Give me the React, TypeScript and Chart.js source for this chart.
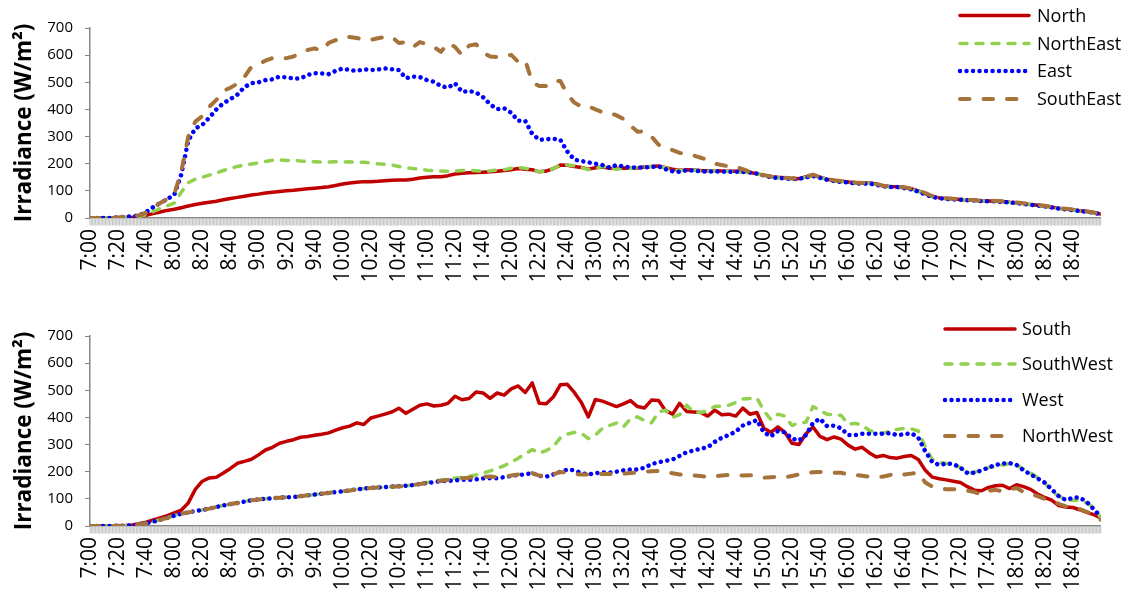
import React, { useEffect, useRef } from 'react';
import { Chart, registerables } from 'chart.js';

Chart.register(...registerables);

const FONT = '"Open Sans", "Liberation Sans", sans-serif';

// Tick labels every 20 minutes (minute 0 = 7:00)
const tickLabels = [
  '7:00', '7:20', '7:40', '8:00', '8:20', '8:40', '9:00', '9:20', '9:40',
  '10:00', '10:20', '10:40', '11:00', '11:20', '11:40', '12:00', '12:20', '12:40',
  '13:00', '13:20', '13:40', '14:00', '14:20', '14:40', '15:00', '15:20', '15:40',
  '16:00', '16:20', '16:40', '17:00', '17:20', '17:40', '18:00', '18:20', '18:40',
];

// Sample times: every 5 minutes from 7:00 (0) to 19:00 (720)
const sampleMinutes: number[] = [];
for (let m = 0; m <= 720; m += 5) sampleMinutes.push(m);

// ---- Top panel (W/m²) ----
const north = [
  0, 0, 0, 0, 1, 2, 3, 5, 10, 16, 22, 28,
  32, 38, 44, 50, 54, 58, 62, 67, 72, 76, 80, 85,
  88, 92, 95, 98, 100, 102, 105, 108, 110, 112, 115, 120,
  125, 129, 132, 134, 134, 135, 137, 139, 140, 140, 143, 147,
  150, 152, 152, 156, 162, 165, 167, 168, 169, 170, 172, 175,
  178, 182, 180, 178, 170, 173, 182, 195, 194, 190, 186, 180,
  185, 188, 183, 182, 184, 183, 184, 188, 190, 192, 185, 180,
  176, 178, 177, 175, 174, 174, 173, 172, 172, 170, 168, 163,
  158, 153, 150, 148, 146, 145, 152, 158, 150, 143, 138, 136,
  133, 130, 128, 130, 125, 118, 116, 115, 112, 108, 100, 90,
  80, 74, 72, 70, 68, 66, 65, 63, 63, 62, 61, 58,
  56, 53, 50, 47, 44, 40, 36, 33, 30, 27, 24, 20,
  15,
];
const northEast = [
  0, 0, 0, 0, 1, 2, 3, 5, 12, 24, 35, 45,
  55, 95, 130, 143, 150, 158, 166, 175, 183, 190, 195, 199,
  203, 208, 213, 214, 212, 213, 210, 208, 207, 206, 206, 207,
  206, 207, 206, 205, 203, 200, 198, 195, 190, 185, 182, 180,
  176, 174, 173, 172, 173, 175, 176, 174, 172, 174, 177, 178,
  183, 186, 183, 178, 170, 174, 182, 195, 195, 192, 186, 178,
  182, 190, 185, 180, 182, 183, 186, 187, 190, 190, 184, 178,
  175, 177, 176, 174, 173, 173, 172, 171, 171, 169, 167, 162,
  157, 152, 148, 146, 144, 144, 150, 155, 149, 142, 136, 134,
  131, 129, 127, 128, 123, 117, 115, 114, 111, 106, 98, 88,
  78, 73, 71, 69, 68, 66, 64, 63, 62, 62, 60, 57,
  55, 52, 49, 46, 43, 39, 35, 32, 29, 26, 23, 19,
  14,
];
const east = [
  0, 0, 0, 0, 2, 4, 6, 10, 22, 40, 55, 70,
  85, 160, 285, 330, 343, 370, 400, 423, 438, 455, 482, 497,
  500, 508, 511, 521, 518, 514, 514, 527, 533, 533, 530, 542,
  551, 545, 542, 548, 545, 547, 551, 548, 545, 515, 521, 519,
  508, 502, 486, 480, 496, 465, 468, 462, 445, 419, 401, 404,
  388, 358, 358, 310, 288, 290, 292, 288, 245, 215, 210, 205,
  200, 195, 186, 195, 190, 186, 186, 186, 188, 190, 180, 172,
  170, 176, 174, 172, 170, 172, 171, 170, 170, 170, 168, 164,
  157, 150, 147, 146, 143, 144, 150, 155, 148, 141, 136, 133,
  131, 128, 126, 127, 122, 117, 114, 114, 110, 105, 97, 87,
  77, 73, 70, 68, 67, 65, 64, 62, 62, 61, 59, 57,
  55, 52, 49, 46, 43, 39, 35, 32, 29, 26, 23, 19,
  14,
];
const southEast = [
  0, 0, 0, 0, 2, 4, 5, 10, 20, 38, 55, 70,
  88, 170, 300, 355, 375, 410, 435, 468, 480, 495, 520, 557,
  565, 580, 589, 589, 589, 595, 610, 619, 625, 616, 645, 655,
  665, 667, 663, 658, 656, 662, 667, 667, 645, 648, 630, 648,
  640, 630, 612, 645, 630, 600, 635, 640, 610, 595, 593, 595,
  601, 575, 582, 500, 486, 486, 505, 505, 455, 425, 410, 412,
  400, 390, 388, 378, 365, 340, 318, 320, 300, 270, 258, 250,
  240, 234, 230, 222, 214, 200, 195, 190, 188, 180, 170, 160,
  158, 153, 150, 148, 146, 145, 153, 160, 151, 144, 139, 136,
  134, 131, 129, 131, 126, 119, 117, 116, 113, 108, 101, 92,
  81, 75, 73, 71, 69, 67, 66, 64, 64, 63, 62, 59,
  57, 54, 51, 48, 45, 41, 37, 34, 31, 28, 25, 20,
  16,
];

// ---- Bottom panel (W/m²) ----
const south = [
  0, 0, 0, 0, 1, 2, 4, 8, 14, 22, 30, 38,
  48, 58, 85, 135, 165, 177, 180, 195, 212, 231, 238, 246,
  262, 280, 290, 305, 312, 318, 327, 330, 334, 338, 343, 353,
  362, 368, 380, 374, 398, 405, 412, 420, 434, 415, 430, 445,
  450, 442, 445, 452, 478, 465, 470, 494, 490, 470, 490, 482,
  505, 516, 492, 527, 452, 450, 475, 520, 522, 492, 455, 402,
  466, 460, 450, 440, 450, 462, 440, 435, 464, 462, 425, 412,
  452, 422, 420, 418, 405, 427, 410, 412, 405, 434, 412, 418,
  360, 345, 365, 345, 305, 300, 340, 365, 330, 318, 328, 320,
  298, 283, 290, 270, 254, 260, 252, 250, 256, 260, 245, 205,
  180, 174, 170, 165, 160, 145, 132, 130, 142, 148, 150, 138,
  152, 145, 135, 118, 105, 95, 75, 70, 68, 60, 50, 42,
  30,
];
const southWest = [
  0, 0, 0, 0, 1, 1, 3, 5, 10, 16, 23, 30,
  38, 45, 50, 55, 59, 64, 70, 76, 81, 85, 90, 95,
  98, 100, 102, 104, 106, 107, 110, 113, 116, 119, 122, 125,
  128, 131, 135, 138, 140, 142, 143, 145, 146, 148, 151, 155,
  160, 165, 170, 173, 176, 179, 183, 188, 195, 203, 212, 222,
  235, 250, 265, 282, 268, 278, 292, 325, 338, 345, 342, 322,
  335, 360, 370, 379, 365, 395, 402, 388, 380, 420, 427, 400,
  410, 445, 420, 418, 425, 440, 442, 445, 455, 468, 470, 472,
  425, 392, 412, 405, 370, 380, 382, 440, 425, 412, 410, 408,
  375, 378, 372, 352, 345, 342, 350, 356, 360, 358, 350, 292,
  245, 234, 230, 226, 215, 195, 198, 205, 215, 220, 225, 230,
  225, 210, 195, 178, 160, 130, 110, 98, 95, 95, 85, 68,
  30,
];
const west = [
  0, 0, 0, 0, 1, 1, 3, 5, 10, 16, 23, 30,
  38, 45, 50, 55, 59, 64, 70, 76, 81, 85, 90, 95,
  98, 100, 102, 104, 106, 107, 110, 113, 116, 119, 122, 125,
  128, 131, 135, 138, 140, 142, 143, 145, 146, 148, 151, 155,
  158, 162, 165, 166, 168, 170, 170, 172, 175, 176, 176, 180,
  185, 188, 190, 195, 185, 182, 190, 200, 208, 205, 195, 190,
  195, 197, 197, 200, 205, 208, 208, 215, 228, 235, 240, 245,
  258, 272, 278, 285, 290, 310, 325, 335, 348, 370, 380, 390,
  345, 330, 350, 345, 322, 315, 335, 380, 395, 368, 370, 360,
  335, 335, 340, 340, 340, 340, 342, 335, 338, 342, 325, 275,
  235, 225, 230, 228, 215, 195, 196, 205, 215, 225, 230, 232,
  225, 205, 190, 175, 160, 135, 110, 96, 104, 105, 88, 62,
  34,
];
const northWest = [
  0, 0, 0, 0, 1, 1, 3, 5, 10, 16, 23, 30,
  38, 45, 50, 55, 59, 64, 70, 76, 81, 85, 90, 95,
  98, 100, 102, 104, 106, 107, 110, 113, 116, 119, 122, 125,
  128, 131, 135, 138, 140, 142, 143, 145, 146, 148, 151, 155,
  158, 162, 166, 170, 172, 176, 178, 180, 181, 182, 180, 182,
  186, 190, 192, 195, 186, 181, 190, 199, 196, 192, 190, 190,
  191, 192, 192, 192, 193, 195, 197, 199, 202, 203, 198, 194,
  190, 188, 186, 184, 181, 183, 186, 188, 188, 186, 187, 185,
  178, 180, 181, 180, 184, 190, 194, 198, 199, 198, 196, 196,
  190, 188, 185, 182, 181, 182, 188, 195, 190, 193, 196, 160,
  145, 140, 135, 135, 135, 130, 125, 116, 130, 133, 128, 135,
  140, 125, 118, 110, 100, 90, 82, 72, 68, 62, 52, 42,
  22,
];

const topNames = ['North', 'NorthEast', 'East', 'SouthEast'];
const bottomNames = ['South', 'SouthWest', 'West', 'NorthWest'];

type Style = { color: string; width: number; dash: number[] };
const styles: Style[] = [
  { color: '#C00000', width: 3.5, dash: [] },
  { color: '#92D050', width: 3.5, dash: [7, 9] },
  { color: '#0000FF', width: 4.5, dash: [0.01, 6.5] },
  { color: '#A5723A', width: 4, dash: [9.5, 14] },
];

const toPoints = (vals: number[]) => vals.map((y, i) => ({ x: sampleMinutes[i], y }));

// Dense minor tick marks under the x axis, at the library's own tick positions
const hatchPlugin = {
  id: 'hatch',
  afterDraw(chart: any) {
    const xs = chart.scales.x;
    const ctx = chart.ctx as CanvasRenderingContext2D;
    const y0 = chart.chartArea.bottom + 0.5;
    ctx.save();
    ctx.strokeStyle = '#B4B4B4';
    ctx.lineWidth = 0.8;
    ctx.beginPath();
    xs.ticks.forEach((t: any) => {
      const px = xs.getPixelForValue(t.value);
      ctx.moveTo(px, y0);
      ctx.lineTo(px, y0 + 7);
    });
    ctx.stroke();
    ctx.restore();
  },
};

const legendPlugin = {
  id: 'customLegend',
  afterDraw(chart: any, _args: any, opts: any) {
    const ctx = chart.ctx as CanvasRenderingContext2D;
    chart.data.datasets.forEach((ds: any, i: number) => {
      const y = opts.ys[i];
      ctx.save();
      ctx.strokeStyle = ds.borderColor;
      ctx.lineWidth = ds.borderWidth;
      ctx.lineCap = 'round';
      ctx.setLineDash(ds.borderDash || []);
      ctx.beginPath();
      ctx.moveTo(opts.x0, y);
      ctx.lineTo(opts.x1, y);
      ctx.stroke();
      ctx.setLineDash([]);
      ctx.fillStyle = '#000';
      ctx.font = `18px ${FONT}`;
      ctx.textBaseline = 'middle';
      ctx.textAlign = 'left';
      ctx.fillText(ds.label, opts.textX, y + 1);
      ctx.restore();
    });
  },
};

type PanelProps = {
  top: number;
  names: string[];
  series: number[][];
  areaTop: number;
  xHeight: number;
  legend: { x0: number; x1: number; textX: number; ys: number[] };
};

function Panel({ top, names, series, areaTop, xHeight, legend }: PanelProps) {
  const ref = useRef<HTMLCanvasElement>(null);
  useEffect(() => {
    if (!ref.current) return;
    const chart = new Chart(ref.current, {
      type: 'line',
      data: {
        datasets: series.map((vals, i) => ({
          label: names[i],
          data: toPoints(vals),
          borderColor: styles[i].color,
          backgroundColor: styles[i].color,
          borderWidth: styles[i].width,
          borderDash: styles[i].dash,
          borderCapStyle: 'round',
          borderJoinStyle: 'round',
          pointRadius: 0,
          tension: 0,
          fill: false,
          order: series.length - i,
        })),
      },
      options: {
        animation: false,
        responsive: true,
        maintainAspectRatio: false,
        layout: { padding: { left: 0, right: 15, top: areaTop, bottom: 0 } },
        plugins: {
          legend: { display: false },
          tooltip: { enabled: false },
          customLegend: legend,
        } as any,
        scales: {
          x: {
            type: 'linear',
            min: 0,
            max: 720,
            afterFit: (s: any) => {
              s.height = xHeight;
            },
            grid: {
              display: true,
              drawOnChartArea: false,
              drawTicks: true,
              tickLength: 7,
              color: 'rgba(0,0,0,0)',
              lineWidth: 1,
            },
            border: { display: true, color: '#868686', width: 1.5 },
            ticks: {
              stepSize: 1,
              autoSkip: false,
              minRotation: 90,
              maxRotation: 90,
              padding: 4,
              color: '#000',
              font: { family: FONT, size: 21 },
              callback: (v: any) => {
                const n = Number(v);
                return n % 20 === 0 && tickLabels[n / 20] ? tickLabels[n / 20] : '';
              },
            },
          },
          y: {
            min: 0,
            max: 700,
            afterFit: (s: any) => {
              s.width = 90;
            },
            grid: {
              drawOnChartArea: false,
              drawTicks: true,
              tickLength: 5,
              color: '#868686',
            },
            border: { display: true, color: '#868686', width: 1.5 },
            ticks: {
              stepSize: 100,
              padding: 12,
              color: '#000',
              font: { family: FONT, size: 15 },
            },
            title: {
              display: true,
              text: 'Irradiance (W/m²)',
              color: '#000',
              font: { family: FONT, size: 22.5, weight: 'bold' },
              padding: { top: 11, bottom: 0 },
            },
          },
        },
      },
      plugins: [hatchPlugin, legendPlugin],
    } as any);
    return () => chart.destroy();
  }, []);
  return (
    <div style={{ position: 'absolute', left: 0, top, width: 1130, height: 298 }}>
      <canvas ref={ref} />
    </div>
  );
}

export default function App() {
  return (
    <div style={{ position: 'fixed', left: 0, top: 0, width: 1130, height: 596, background: '#fff' }}>
      <Panel
        top={0}
        names={topNames}
        series={[north, northEast, east, southEast]}
        areaTop={28}
        xHeight={80}
        legend={{ x0: 960, x1: 1029, textX: 1037, ys: [15.5, 43.5, 71, 99] }}
      />
      <Panel
        top={298}
        names={bottomNames}
        series={[south, southWest, west, northWest]}
        areaTop={38}
        xHeight={70}
        legend={{ x0: 945, x1: 1015, textX: 1022, ys: [31, 66, 102, 138] }}
      />
    </div>
  );
}
